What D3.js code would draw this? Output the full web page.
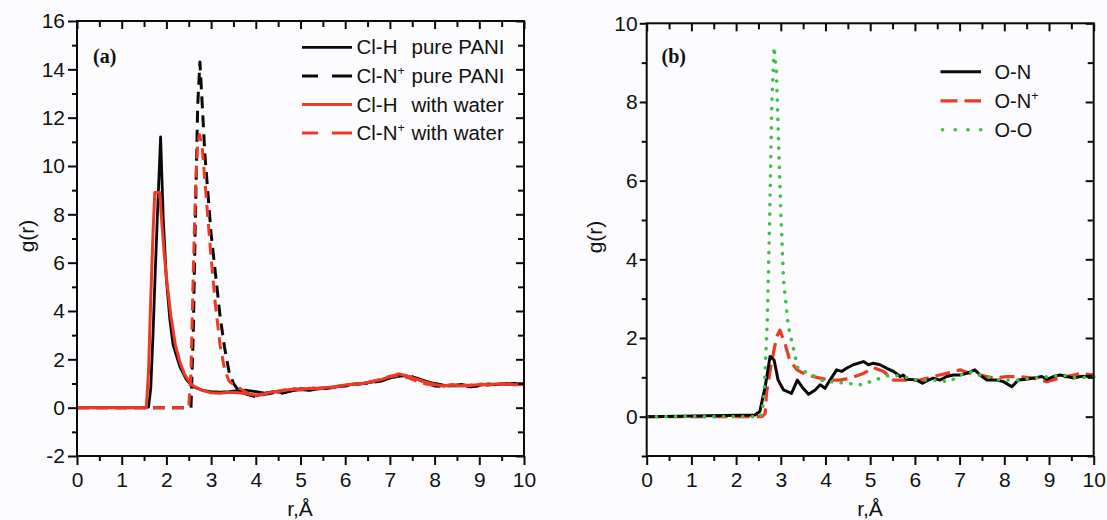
<!DOCTYPE html>
<html>
<head>
<meta charset="utf-8">
<script src="https://cdn.jsdelivr.net/npm/d3@7"></script>
<style>
  html, body { margin: 0; padding: 0; background: #fcfcfe; }
  svg { display: block; }
  text { font-family: "Liberation Sans", Arial, sans-serif; fill: #111; }
  .panel-tag { font-family: "Liberation Serif", "Times New Roman", serif; font-weight: bold; }
</style>
</head>
<body>
<svg id="chart" width="1107" height="520"></svg>
<script>
// ---- Panel (a): Cl–H and Cl–N+ radial distribution functions ----
const rClHPure = [0, 1.5, 1.6, 1.65, 1.7, 1.75, 1.8, 1.87, 1.93, 2.0, 2.08, 2.15, 2.3, 2.45, 2.6, 2.8, 3.0, 3.2, 3.4, 3.6, 3.8, 4.0, 4.2, 4.4, 4.6, 4.8, 5.0, 5.2, 5.4, 5.6, 5.8, 6.0, 6.2, 6.4, 6.6, 6.8, 7.0, 7.2, 7.4, 7.6, 7.8, 8.0, 8.2, 8.4, 8.6, 8.8, 9.0, 9.2, 9.4, 9.6, 9.8, 10];
const gClHPure = [0, 0, 0.02, 0.8, 3.0, 5.6, 8.0, 11.2, 7.8, 5.3, 3.6, 2.6, 1.7, 1.15, 0.87, 0.72, 0.66, 0.64, 0.66, 0.7, 0.72, 0.66, 0.6, 0.66, 0.62, 0.7, 0.75, 0.72, 0.78, 0.8, 0.86, 0.92, 0.97, 1.0, 1.06, 1.12, 1.22, 1.34, 1.3, 1.22, 1.1, 1.0, 0.93, 0.92, 0.96, 0.88, 0.92, 0.98, 0.95, 1.0, 0.98, 1.0];

const rClNPure = [0, 2.55, 2.6, 2.65, 2.7, 2.75, 2.8, 2.86, 3.0, 3.1, 3.2, 3.3, 3.4, 3.5, 3.6, 3.8, 4.0, 4.2, 4.4, 4.6, 4.8, 5.0, 5.2, 5.4, 5.6, 5.8, 6.0, 6.2, 6.4, 6.6, 6.8, 7.0, 7.2, 7.4, 7.6, 7.8, 8.0, 8.2, 8.4, 8.6, 8.8, 9.0, 9.2, 9.4, 9.6, 9.8, 10];
const gClNPure = [0, 0, 3.0, 8.0, 12.5, 14.3, 12.6, 10.5, 7.2, 5.5, 3.8, 2.5, 1.5, 1.0, 0.75, 0.55, 0.45, 0.55, 0.62, 0.6, 0.7, 0.78, 0.74, 0.8, 0.82, 0.88, 0.9, 0.96, 1.0, 1.04, 1.1, 1.24, 1.3, 1.36, 1.2, 1.02, 0.9, 0.88, 0.92, 0.9, 0.86, 0.9, 0.95, 0.97, 0.96, 1.0, 1.0];

const rClHWater = [0, 1.55, 1.6, 1.65, 1.7, 1.74, 1.85, 1.9, 1.95, 2.0, 2.05, 2.1, 2.2, 2.3, 2.4, 2.5, 2.6, 2.8, 3.0, 3.2, 3.4, 3.6, 3.8, 4.0, 4.2, 4.4, 4.6, 4.8, 5.0, 5.2, 5.4, 5.6, 5.8, 6.0, 6.2, 6.4, 6.6, 6.8, 7.0, 7.2, 7.4, 7.6, 7.8, 8.0, 8.2, 8.4, 8.6, 8.8, 9.0, 9.2, 9.4, 9.6, 9.8, 10];
const gClHWater = [0, 0, 1.5, 4.5, 7.2, 8.9, 8.9, 7.6, 6.4, 5.4, 4.6, 3.8, 2.6, 1.9, 1.4, 1.1, 0.9, 0.72, 0.62, 0.6, 0.64, 0.62, 0.58, 0.52, 0.58, 0.66, 0.7, 0.76, 0.74, 0.8, 0.78, 0.84, 0.88, 0.94, 0.98, 1.0, 1.08, 1.16, 1.28, 1.4, 1.3, 1.18, 1.06, 0.96, 0.9, 0.94, 0.9, 0.92, 0.96, 0.94, 0.98, 0.97, 0.95, 0.96];

const rClNWater = [0, 2.5, 2.55, 2.6, 2.65, 2.7, 2.74, 2.8, 2.9, 3.0, 3.1, 3.2, 3.3, 3.4, 3.5, 3.6, 3.8, 4.0, 4.2, 4.4, 4.6, 4.8, 5.0, 5.2, 5.4, 5.6, 5.8, 6.0, 6.2, 6.4, 6.6, 6.8, 7.0, 7.2, 7.4, 7.6, 7.8, 8.0, 8.2, 8.4, 8.6, 8.8, 9.0, 9.2, 9.4, 9.6, 9.8, 10];
const gClNWater = [0, 0, 1.5, 5.5, 9.0, 11.0, 11.3, 10.8, 8.5, 6.2, 4.2, 2.6, 1.6, 1.1, 0.95, 0.85, 0.62, 0.48, 0.56, 0.64, 0.72, 0.8, 0.76, 0.82, 0.8, 0.78, 0.86, 0.92, 0.98, 1.02, 1.08, 1.18, 1.3, 1.32, 1.24, 1.1, 0.98, 0.94, 0.9, 0.96, 0.92, 0.94, 0.98, 0.95, 1.0, 0.98, 1.0, 0.98];

const legendA = ["Cl-H", "Cl-N", "Cl-H", "Cl-N"];
const legendASuffix = ["pure PANI", "pure PANI", "with water", "with water"];
const legendASup = [false, true, false, true];

// ---- Panel (b): O–N, O–N+ and O–O radial distribution functions ----
const rON = [0, 2.42, 2.53, 2.65, 2.76, 2.85, 2.94, 3.06, 3.24, 3.37, 3.5, 3.62, 3.77, 3.88, 3.99, 4.1, 4.25, 4.36, 4.47, 4.62, 4.85, 4.96, 5.07, 5.22, 5.37, 5.52, 5.67, 5.74, 5.82, 6.04, 6.17, 6.3, 6.41, 6.56, 6.71, 6.86, 7.01, 7.16, 7.34, 7.46, 7.61, 7.83, 7.98, 8.17, 8.31, 8.5, 8.65, 8.84, 8.95, 9.1, 9.25, 9.4, 9.55, 9.7, 9.85, 10];
const gON = [0, 0.04, 0.13, 0.76, 1.53, 1.44, 0.93, 0.68, 0.59, 0.93, 0.72, 0.57, 0.68, 0.81, 0.72, 0.93, 1.19, 1.15, 1.23, 1.32, 1.4, 1.32, 1.36, 1.32, 1.23, 1.15, 1.02, 1.06, 0.95, 0.93, 0.85, 0.93, 0.98, 0.93, 1.02, 1.06, 1.06, 1.1, 1.19, 1.06, 0.93, 0.93, 0.89, 0.76, 0.93, 0.95, 0.98, 1.02, 0.95, 1.02, 1.06, 1.02, 0.98, 1.02, 1.03, 1.03];

const rONPlus = [0, 2.58, 2.65, 2.68, 2.79, 2.91, 2.98, 3.09, 3.2, 3.36, 3.58, 3.88, 4.1, 4.32, 4.55, 4.85, 5.07, 5.3, 5.52, 5.82, 6.11, 6.41, 6.71, 7.01, 7.24, 7.46, 7.76, 8.06, 8.35, 8.65, 8.95, 9.25, 9.55, 9.7, 10];
const gONPlus = [0, 0, 0.08, 0.6, 1.36, 2.04, 2.2, 1.87, 1.44, 1.19, 1.06, 0.98, 0.93, 0.93, 0.98, 1.1, 1.25, 1.15, 0.93, 0.93, 0.93, 1.02, 1.1, 1.19, 1.1, 1.06, 0.98, 1.02, 1.02, 0.98, 0.89, 0.98, 1.06, 1.1, 1.06];

const rOO = [0, 2.55, 2.62, 2.7, 2.75, 2.8, 2.85, 2.9, 2.95, 3.0, 3.06, 3.17, 3.39, 3.65, 3.88, 4.1, 4.45, 4.81, 5.15, 5.44, 5.74, 6.04, 6.41, 6.78, 7.01, 7.24, 7.46, 7.91, 8.28, 8.65, 9.02, 9.32, 9.62, 10];
const gOO = [0, 0, 0.4, 2.5, 5.0, 8.0, 9.4, 8.8, 7.0, 5.2, 3.48, 2.29, 1.19, 1.1, 0.93, 0.89, 0.85, 0.81, 0.95, 1.06, 1.02, 0.93, 0.93, 0.89, 1.06, 1.14, 1.06, 0.93, 0.93, 0.98, 1.02, 1.06, 0.98, 1.02];

const legendB = ["O-N", "O-N", "O-O"];
const legendBSup = [false, true, false];

// Axis ticks
const xMajor = [0, 1, 2, 3, 4, 5, 6, 7, 8, 9, 10];
const xMinor = [0.5, 1.5, 2.5, 3.5, 4.5, 5.5, 6.5, 7.5, 8.5, 9.5];
const yMajorA = [-2, 0, 2, 4, 6, 8, 10, 12, 14, 16];
const yMinorA = [-1, 1, 3, 5, 7, 9, 11, 13, 15];
const yMajorB = [0, 2, 4, 6, 8, 10];
const yMinorB = [-1, 1, 3, 5, 7, 9];

const RED = "#ee3a24";
const GREEN = "#3fbf3f";
const BLACK = "#0a0a0a";
const TICK_FONT = 21;

const svg = d3.select("#chart");

function drawFrame(g, x, y, o) {
  const [x0, x1] = x.range();
  const [y0, y1] = y.range();
  const fmt = d => String(d);

  // bottom: outward ticks with labels
  const bMaj = g.append("g").attr("transform", `translate(0,${y0})`)
    .call(d3.axisBottom(x).tickValues(xMajor).tickSize(o.majB).tickPadding(o.padB).tickFormat(fmt));
  const bMin = g.append("g").attr("transform", `translate(0,${y0})`)
    .call(d3.axisBottom(x).tickValues(xMinor).tickSize(5).tickFormat(""));
  // left: outward ticks with labels
  const lMaj = g.append("g").attr("transform", `translate(${x0},0)`)
    .call(d3.axisLeft(y).tickValues(o.yMajor).tickSize(o.majL).tickPadding(o.padL).tickFormat(fmt));
  const lMin = g.append("g").attr("transform", `translate(${x0},0)`)
    .call(d3.axisLeft(y).tickValues(o.yMinor).tickSize(5).tickFormat(""));
  // top: inward ticks
  const tMaj = g.append("g").attr("transform", `translate(0,${y1})`)
    .call(d3.axisTop(x).tickValues(xMajor).tickSize(-8).tickFormat(""));
  const tMin = g.append("g").attr("transform", `translate(0,${y1})`)
    .call(d3.axisTop(x).tickValues(xMinor).tickSize(-6).tickFormat(""));
  // right: inward ticks
  const rMaj = g.append("g").attr("transform", `translate(${x1},0)`)
    .call(d3.axisRight(y).tickValues(o.yMajor).tickSize(-8).tickFormat(""));
  const rMin = g.append("g").attr("transform", `translate(${x1},0)`)
    .call(d3.axisRight(y).tickValues(o.yMinor).tickSize(-6).tickFormat(""));

  [bMaj, bMin, lMaj, lMin, tMaj, tMin, rMaj, rMin].forEach(a => {
    a.select(".domain").remove();
    a.selectAll("line").attr("stroke", BLACK).attr("stroke-width", 2);
    a.selectAll("text").attr("font-size", TICK_FONT).attr("fill", "#111")
      .attr("font-family", '"Liberation Sans", Arial, sans-serif');
  });

  g.append("rect")
    .attr("x", x0).attr("y", y1)
    .attr("width", x1 - x0).attr("height", y0 - y1)
    .attr("fill", "none").attr("stroke", BLACK).attr("stroke-width", 2);
}

function drawSeries(g, x, y, rs, gs, style) {
  const line = d3.line().x((d, i) => x(rs[i])).y(d => y(d));
  g.append("path")
    .attr("d", line(gs))
    .attr("fill", "none")
    .attr("stroke", style.color)
    .attr("stroke-width", style.width)
    .attr("stroke-dasharray", style.dash || null)
    .attr("stroke-linecap", style.cap || "butt")
    .attr("stroke-linejoin", "round");
}

// ---------- Panel (a) ----------
const xa = d3.scaleLinear().domain([0, 10]).range([77, 524]);
const ya = d3.scaleLinear().domain([-2, 16]).range([456, 21]);
const ga = svg.append("g");

const stylesA = [
  { color: BLACK, width: 2.8 },
  { color: BLACK, width: 3, dash: "12,7" },
  { color: RED, width: 3 },
  { color: RED, width: 3, dash: "12,7" }
];
drawSeries(ga, xa, ya, rClHPure, gClHPure, stylesA[0]);
drawSeries(ga, xa, ya, rClNPure, gClNPure, stylesA[1]);
drawSeries(ga, xa, ya, rClHWater, gClHWater, stylesA[2]);
drawSeries(ga, xa, ya, rClNWater, gClNWater, stylesA[3]);

drawFrame(ga, xa, ya, { yMajor: yMajorA, yMinor: yMinorA, majB: 9, padB: 7, majL: 9, padL: 3 });

ga.append("text").attr("class", "panel-tag").attr("x", 93).attr("y", 63)
  .attr("font-size", 20).text("(a)");

ga.append("text").attr("transform", "translate(34,236) rotate(-90)")
  .attr("text-anchor", "middle").attr("font-size", 21).text("g(r)");
ga.append("text").attr("x", 300).attr("y", 516)
  .attr("text-anchor", "middle").attr("font-size", 21).text("r,Å");

// legend (a)
const legA = ga.append("g");
legendA.forEach((lab, i) => {
  const base = 54.3 + i * 28.6;
  const ly = base - 7;
  const st = stylesA[i];
  legA.append("line")
    .attr("x1", 302).attr("x2", 352).attr("y1", ly).attr("y2", ly)
    .attr("stroke", st.color).attr("stroke-width", st.width)
    .attr("stroke-dasharray", st.dash ? "16,14,20" : null);
  const t = legA.append("text").attr("x", 356.5).attr("y", base).attr("font-size", 20.5);
  t.append("tspan").text(lab);
  if (legendASup[i]) t.append("tspan").attr("dy", -8).attr("font-size", 12.5).text("+");
  legA.append("text").attr("x", 411.5).attr("y", base).attr("font-size", 20.5).text(legendASuffix[i]);
});

// ---------- Panel (b) ----------
const xb = d3.scaleLinear().domain([0, 10]).range([646.7, 1093.7]);
const yb = d3.scaleLinear().domain([-1, 10]).range([456, 23.3]);
const gb = svg.append("g");

const stylesB = [
  { color: BLACK, width: 3 },
  { color: RED, width: 3.2, dash: "15,7" },
  { color: GREEN, width: 3.6, dash: "0.1,9.5", cap: "round" }
];
drawSeries(gb, xb, yb, rONPlus, gONPlus, stylesB[1]);
drawSeries(gb, xb, yb, rON, gON, stylesB[0]);
drawSeries(gb, xb, yb, rOO, gOO, stylesB[2]);

drawFrame(gb, xb, yb, { yMajor: yMajorB, yMinor: yMinorB, majB: 9, padB: 7, majL: 7, padL: 2 });

gb.append("text").attr("class", "panel-tag").attr("x", 661.5).attr("y", 62.5)
  .attr("font-size", 20).text("(b)");

gb.append("text").attr("transform", "translate(602,237) rotate(-90)")
  .attr("text-anchor", "middle").attr("font-size", 21).text("g(r)");
gb.append("text").attr("x", 870).attr("y", 516)
  .attr("text-anchor", "middle").attr("font-size", 21).text("r,Å");

// legend (b)
const legB = gb.append("g");
const legBDash = [null, "17,7", "0.1,12.6"];
legendB.forEach((lab, i) => {
  const base = 79.3 + i * 29;
  const ly = base - 7.5;
  const st = stylesB[i];
  legB.append("line")
    .attr("x1", i === 2 ? 942.5 : 940.5).attr("x2", 981).attr("y1", ly).attr("y2", ly)
    .attr("stroke", st.color).attr("stroke-width", st.width)
    .attr("stroke-dasharray", legBDash[i])
    .attr("stroke-linecap", st.cap || "butt");
  const t = legB.append("text").attr("x", 994.5).attr("y", base).attr("font-size", 20);
  t.append("tspan").text(lab);
  if (legendBSup[i]) t.append("tspan").attr("dy", -8).attr("font-size", 12.5).text("+");
});
</script>
</body>
</html>
